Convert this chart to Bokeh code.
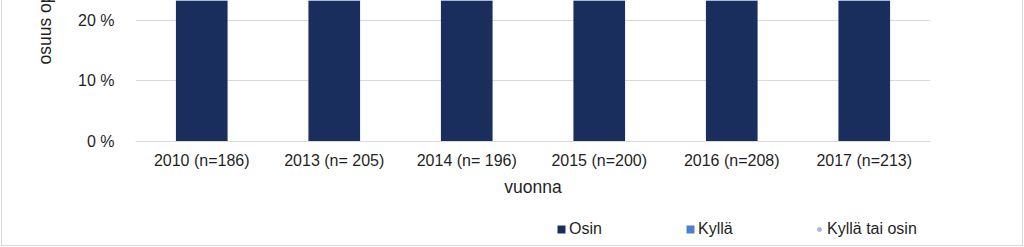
from bokeh.plotting import figure
from bokeh.models import (Range1d, FixedTicker, Legend, LegendItem, Title,
                          ColumnDataSource)
from bokeh.embed import file_html
from bokeh.resources import INLINE

# ---- data (bars run past the visible top edge; values estimated) ----
categories = ["2010 (n=186)", "2013 (n= 205)", "2014 (n= 196)",
              "2015 (n=200)", "2016 (n=208)", "2017 (n=213)"]
osin = [36, 38, 35, 39, 37, 40]
kylla = [30, 28, 33, 29, 31, 30]
kylla_tai_osin = [66, 66, 68, 68, 68, 70]
y_ticks = [0, 10, 20]
y_tick_labels = ["0 %", "10 %", "20 %"]

FONT = "Liberation Sans"
TXT = "#1f1f1f"
GRID = "#d9d9d9"
C_OSIN = "#1a2e5e"
C_KYLLA = "#4d7ed6"
C_KTO = "#a9b8de"

src = ColumnDataSource(dict(cat=categories, osin=osin, kylla=kylla, kto=kylla_tai_osin))

# frame spans to the bottom edge; the x axis is pinned at 0 %
p = figure(x_range=categories, y_range=Range1d(-17.5, 23.33),
           width=1020, height=245, output_backend="svg", toolbar_location=None,
           min_border_left=133, min_border_right=94, min_border_top=0,
           min_border_bottom=0)
p.styles = {"border-left": f"1px solid {GRID}", "border-right": f"1px solid {GRID}",
            "border-bottom": f"1px solid {GRID}", "margin-left": "1px",
            "box-sizing": "content-box"}
p.x_range.range_padding = 0
p.background_fill_color = "white"
p.border_fill_color = "white"
p.outline_line_color = None

rs = p.vbar_stack(["osin", "kylla"], x="cat", width=0.39, source=src,
                  color=[C_OSIN, C_KYLLA], line_width=0)
r_kto = p.scatter(x="cat", y="kto", source=src, size=8, color=C_KTO)

# axes
p.yaxis.ticker = FixedTicker(ticks=y_ticks)
p.yaxis.major_label_overrides = {t: l for t, l in zip(y_ticks, y_tick_labels)}
p.yaxis.axis_line_color = None
p.yaxis.major_tick_line_color = None
p.yaxis.minor_tick_line_color = None
p.yaxis.major_label_standoff = 15
p.yaxis.major_label_text_font = FONT
p.yaxis.major_label_text_font_size = "16px"
p.yaxis.major_label_text_color = TXT

p.xaxis.fixed_location = 0
p.xaxis.axis_line_color = GRID
p.xaxis.axis_line_width = 1
p.xaxis.major_tick_line_color = None
p.xaxis.minor_tick_line_color = None
p.xaxis.major_label_standoff = 5
p.xaxis.major_label_text_font = FONT
p.xaxis.major_label_text_font_size = "16px"
p.xaxis.major_label_text_color = TXT
p.xaxis.axis_label = "vuonna"
p.xaxis.axis_label_text_font = FONT
p.xaxis.axis_label_text_font_size = "17.5px"
p.xaxis.axis_label_text_font_style = "normal"
p.xaxis.axis_label_text_color = TXT
p.xaxis.axis_label_standoff = 4

p.xgrid.grid_line_color = None
p.ygrid.grid_line_color = GRID
p.ygrid.ticker = FixedTicker(ticks=y_ticks)

# y axis title (cut off at the top in the reference)
ytitle = Title(text="osuus opettajista", align="left", offset=182,
               text_font=FONT, text_font_size="17.5px",
               text_font_style="normal", text_color=TXT)
try:
    ytitle.standoff = 42
except Exception:
    pass
p.add_layout(ytitle, "left")

leg = Legend(items=[LegendItem(label="Osin", renderers=[rs[0]]),
                    LegendItem(label="Kyllä", renderers=[rs[1]]),
                    LegendItem(label="Kyllä tai osin", renderers=[r_kto])],
             orientation="horizontal", padding=0, margin=0,
             border_line_color=None, background_fill_alpha=0,
             label_text_font=FONT, label_text_font_size="16px",
             label_text_color=TXT, label_height=20,
             glyph_width=10, glyph_height=10, label_standoff=3,
             label_width=100, spacing=16, location=(421, 7))
p.add_layout(leg, "center")

open("out.html", "w").write(file_html(p, INLINE))
